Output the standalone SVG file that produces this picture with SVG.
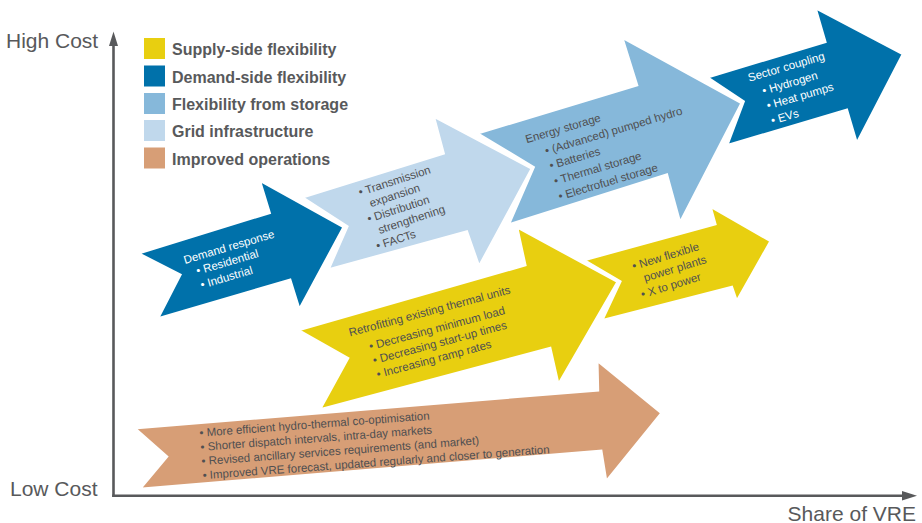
<svg xmlns="http://www.w3.org/2000/svg" width="922" height="523" viewBox="0 0 922 523">
<style>
.arr{stroke:#fff;stroke-width:3;stroke-linejoin:miter}
.yel{fill:#e8cf10}
.dkb{fill:#0071aa}
.stb{fill:#86b8da}
.grb{fill:#c0d8ec}
.org{fill:#d79e76}
.t{font-family:"Liberation Sans",Arial,sans-serif;font-size:11.5px;fill:#4f4f51}
.tw{font-family:"Liberation Sans",Arial,sans-serif;font-size:11.5px;fill:#fff}
.leg{font-family:"Liberation Sans",Arial,sans-serif;font-size:16px;font-weight:bold;fill:#58595b}
.ax{font-family:"Liberation Sans",Arial,sans-serif;font-size:21px;fill:#58595b}
</style>
<rect width="922" height="523" fill="#fff"/>
<g id="axes">
<line x1="113.5" y1="497" x2="113.5" y2="44" stroke="#58595b" stroke-width="2.6"/>
<polygon points="113.5,31.5 109,46 118,46" fill="#58595b"/>
<line x1="112.2" y1="495.8" x2="904" y2="495.8" stroke="#58595b" stroke-width="2.6"/>
<polygon points="917,495.8 902,491 902,500.6" fill="#58595b"/>
<text class="ax" x="6" y="48">High Cost</text>
<text class="ax" x="10" y="496">Low Cost</text>
<text class="ax" x="916" y="520.5" text-anchor="end">Share of VRE</text>
</g>
<g id="legend">
<rect x="144" y="38" width="21" height="21" class="yel"/>
<rect x="144" y="65.5" width="21" height="21" class="dkb"/>
<rect x="144" y="93" width="21" height="21" class="stb"/>
<rect x="144" y="120" width="21" height="21" class="grb"/>
<rect x="144" y="147.5" width="21" height="21" class="org"/>
<text class="leg" x="172" y="55">Supply-side flexibility</text>
<text class="leg" x="172" y="82.5">Demand-side flexibility</text>
<text class="leg" x="172" y="110">Flexibility from storage</text>
<text class="leg" x="172" y="137">Grid infrastructure</text>
<text class="leg" x="172" y="164.5">Improved operations</text>
</g>
<g id="connectors"></g>
<g id="improved-operations">
<polygon class="arr org" points="134,428 597.7,390 597,360 662,413 606,482 601,451 139.3,489.3 166.6,456.7"/>
<text class="t" transform="translate(199.7,436.8) rotate(-4.3)">
<tspan x="0" y="0">• More efficient hydro-thermal co-optimisation</tspan>
<tspan x="0" y="14.2">• Shorter dispatch intervals, intra-day markets</tspan>
<tspan x="0" y="28.4">• Revised ancillary services requirements (and market)</tspan>
<tspan x="0" y="42.6">• Improved VRE forecast, updated regularly and closer to generation</tspan>
</text>
</g>
<g id="demand-response">
<polygon class="arr dkb" points="137.7,253.3 269.3,212.7 259.3,180 344,227 299.3,310 290,280 157.3,319 180,275"/>
<text class="tw" transform="translate(185,264) rotate(-16.5)">
<tspan x="0" y="0">Demand response</tspan>
<tspan x="9" y="14">• Residential</tspan>
<tspan x="9" y="28.5">• Industrial</tspan>
</text>
</g>
<g id="grid-infrastructure">
<polygon class="arr grb" points="301.7,197.3 443.3,153.3 433.3,116 532.3,168.3 479,267 466.7,231.7 328,270 347,226.5"/>
<text class="t" transform="translate(360,196.1) rotate(-18)">
<tspan x="0" y="0">• Transmission</tspan>
<tspan x="7" y="14">expansion</tspan>
<tspan x="0" y="28">• Distribution</tspan>
<tspan x="7" y="42">strengthening</tspan>
<tspan x="0" y="56.5">• FACTs</tspan>
</text>
</g>
<g id="storage">
<polygon class="arr stb" points="476.7,133.3 636.7,85 621.7,37 742,103 680,223.3 666.7,175 508.3,225 533.3,167.3"/>
<text class="t" transform="translate(526.7,143.3) rotate(-16.5)">
<tspan x="0" y="0">Energy storage</tspan>
<tspan x="15.5" y="16.5">• (Advanced) pumped hydro</tspan>
<tspan x="15.5" y="32">• Batteries</tspan>
<tspan x="15.5" y="48">• Thermal storage</tspan>
<tspan x="15.5" y="64">• Electrofuel storage</tspan>
</text>
</g>
<g id="sector-coupling">
<polygon class="arr dkb" points="706.7,77.3 825,41.7 815,7.3 903.3,54 856.7,144 846.7,110 726.7,145.7 743.3,101.7"/>
<text class="tw" transform="translate(749.3,81.7) rotate(-16.3)">
<tspan x="0" y="0">Sector coupling</tspan>
<tspan x="10" y="16.5">• Hydrogen</tspan>
<tspan x="10" y="32">• Heat pumps</tspan>
<tspan x="10" y="47.5">• EVs</tspan>
</text>
</g>
<g id="retrofitting">
<polygon class="arr yel" points="297.7,330 525,265 516.7,226.7 618,281.7 558.3,385 550,348.3 319.3,410 347.7,358.3"/>
<text class="t" transform="translate(350,336.5) rotate(-15)">
<tspan x="0" y="0">Retrofitting existing thermal units</tspan>
<tspan x="16" y="18.5">• Decreasing minimum load</tspan>
<tspan x="16" y="33">• Decreasing start-up times</tspan>
<tspan x="16" y="47.5">• Increasing ramp rates</tspan>
</text>
</g>
<g id="new-plants">
<polygon class="arr yel" points="583.3,260 715,224 710,206 771,241 736.7,301.7 731.7,287.3 601.7,320.7 620,281.7"/>
<text class="t" transform="translate(633.6,270.1) rotate(-17)">
<tspan x="0" y="0">• New flexible</tspan>
<tspan x="7.5" y="14.5">power plants</tspan>
<tspan x="0" y="29.5">• X to power</tspan>
</text>
</g>
</svg>
